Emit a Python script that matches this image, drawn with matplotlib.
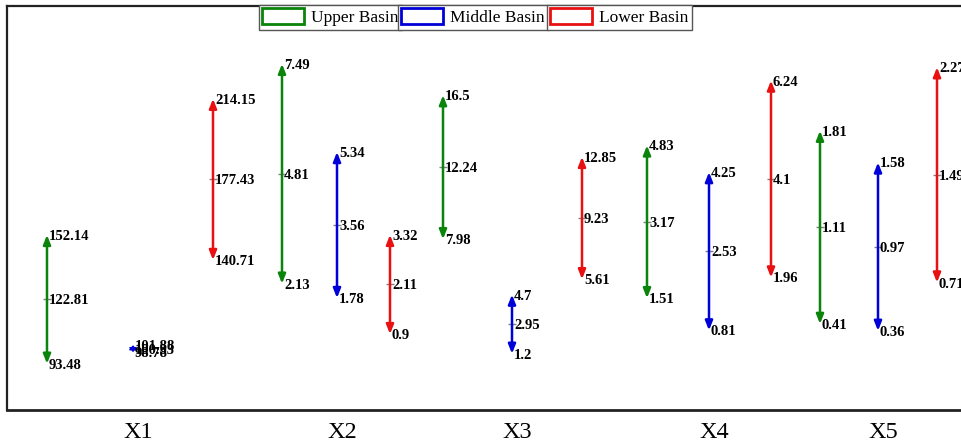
import matplotlib
matplotlib.use("Agg")
import matplotlib.pyplot as plt
from matplotlib.patches import Rectangle

plt.rcParams['font.family'] = ['Liberation Serif', 'DejaVu Serif']

## donnees
groups = ['X1', 'X2', 'X3', 'X4', 'X5']
series = ['Upper Basin', 'Middle Basin', 'Lower Basin']
colors = ['#0a840a', '#0000d8', '#e81010']

upper_hi = [152.14, 7.49, 16.5, 4.83, 1.81]
upper_mid = [122.81, 4.81, 12.24, 3.17, 1.11]
upper_lo = [93.48, 2.13, 7.98, 1.51, 0.41]

middle_hi = [101.88, 5.34, 4.7, 4.25, 1.58]
middle_mid = [100.33, 3.56, 2.95, 2.53, 0.97]
middle_lo = [98.78, 1.78, 1.2, 0.81, 0.36]

lower_hi = [214.15, 3.32, 12.85, 6.24, 2.27]
lower_mid = [177.43, 2.11, 9.23, 4.1, 1.49]
lower_lo = [140.71, 0.9, 5.61, 1.96, 0.71]

## mise en page (unites: pixels dans l'axe)
xc = [126, 330, 505, 702, 871]          # centre de chaque groupe (Middle)
dx_up = [-86, -55, -69, -62, -58]
dx_low = [80, 53, 70, 62, 59]
ylims = [(72.4, 256.4), (-0.95, 8.90), (-2.13, 21.78), (-0.92, 7.86), (-0.214, 2.714)]

fig = plt.figure(figsize=(9.62, 4.45), dpi=100)
ax = fig.add_axes([7/962, 35/445, 958/962, 404/445])
ax.set_xlim(0, 958)
ax.set_ylim(0, 1)
ax.set_yticks([])
ax.set_xticks([x + 5 for x in xc])
ax.set_xticklabels(groups, fontsize=17.5)
ax.tick_params(axis='x', length=0, pad=9)
for s in ax.spines.values():
    s.set_linewidth(1.6)
    s.set_color('#222222')
ax.spines['bottom'].set_linewidth(2)

data = [(upper_hi, upper_mid, upper_lo, dx_up),
        (middle_hi, middle_mid, middle_lo, [0]*5),
        (lower_hi, lower_mid, lower_lo, dx_low)]

px_per_unit = 10 * 100 / 72   # mutation_scale 10 pt en pixels
for k in range(len(groups)):
    tax = ax.twinx()
    tax.set_ylim(*ylims[k])
    tax.axis('off')
    h_ax = 404  # hauteur de l'axe en pixels
    for j, (hi, mid, lo, dx) in enumerate(data):
        x = xc[k] + dx[k]
        c = colors[j]
        span_px = (hi[k] - lo[k]) / (ylims[k][1] - ylims[k][0]) * h_ax
        hl = min(0.55, span_px / 2 / px_per_unit)   # petite fleche -> losange
        hw = min(0.22, hl * 0.9)
        lw = 1.8 if hl >= 0.55 else 1.0
        tax.annotate('', xy=(x, hi[k]), xytext=(x, lo[k]),
                     arrowprops=dict(arrowstyle='<|-|>,head_length=%.3f,head_width=%.3f' % (hl, hw),
                                     color=c, lw=lw, shrinkA=0, shrinkB=0,
                                     mutation_scale=10))
        tax.plot([x], [mid[k]], marker='_', ms=6, color='gray', mew=1)
        for v in (hi[k], mid[k], lo[k]):
            tax.text(x + 2, v, str(v), ha='left', va='center_baseline',
                     fontsize=10.5, fontweight='bold', color='black')

# legende: trois cadres cote a cote
lx = [259, 398, 547]
for j in range(3):
    h = Rectangle((0, 0), 1, 1, facecolor='white', edgecolor=colors[j], lw=2)
    leg = fig.legend([h], [series[j]], loc='upper left',
                     bbox_to_anchor=(lx[j]/962, 1 - 5/445),
                     fontsize=12.5, frameon=True, fancybox=False,
                     edgecolor='#555555', framealpha=1,
                     handlelength=2.4, handleheight=1.0,
                     borderpad=0.2, handletextpad=0.4, borderaxespad=0)
    leg.get_frame().set_linewidth(1)

fig.savefig('out.png', dpi=100)
